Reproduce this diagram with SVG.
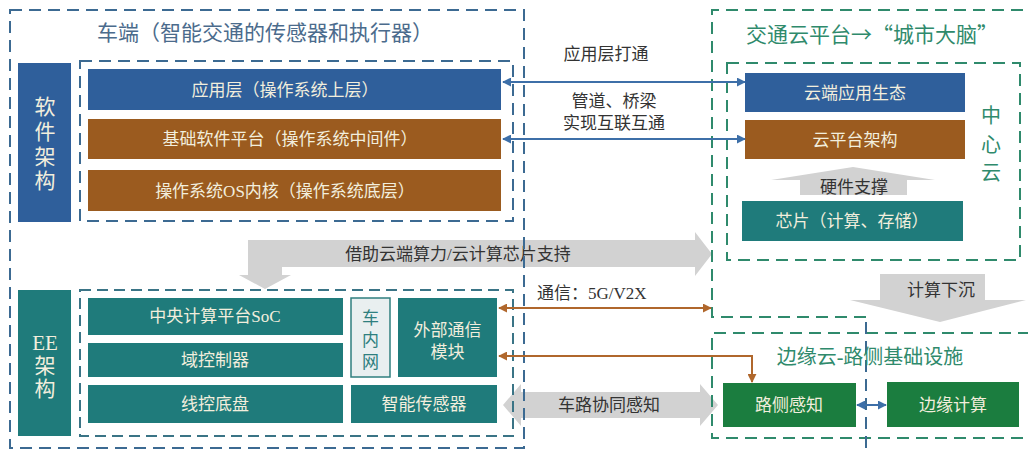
<svg xmlns="http://www.w3.org/2000/svg" width="1028" height="450" viewBox="0 0 1028 450">
<defs>
<style>
.t{font-family:"Liberation Serif","Noto Sans CJK SC",serif;}
.w{fill:#f2eedd;font-size:17px;text-anchor:middle;dominant-baseline:central;}
.d{fill:#333;font-size:17px;text-anchor:middle;dominant-baseline:central;}
.dashB{fill:none;stroke:#3c6a92;stroke-width:2;stroke-dasharray:12 7;}
.dashG{fill:none;stroke:#2f8a6c;stroke-width:2;stroke-dasharray:12 7;}
.dashT{fill:none;stroke:#3a7486;stroke-width:2;stroke-dasharray:11 6;}
.blue{fill:#2f5f9b;}
.brown{fill:#9b5b1f;}
.teal{fill:#1f7b7b;}
.green{fill:#1b7d3f;}
.gray{fill:#d2d2d2;}
.lb{stroke:#3d6fa8;stroke-width:2;fill:none;}
.lo{stroke:#b0672c;stroke-width:2;fill:none;}
</style>
<marker id="ab" viewBox="0 0 10 10" refX="9" refY="5" markerWidth="9" markerHeight="9" markerUnits="userSpaceOnUse" orient="auto-start-reverse"><path d="M0,0 L10,5 L0,10 z" fill="#3d6fa8"/></marker>
<marker id="ao" viewBox="0 0 10 10" refX="9" refY="5" markerWidth="9" markerHeight="9" markerUnits="userSpaceOnUse" orient="auto-start-reverse"><path d="M0,0 L10,5 L0,10 z" fill="#b0672c"/></marker>
</defs>
<rect width="1028" height="450" fill="#ffffff"/>

<g id="big-arrows">
<path class="gray" d="M248,240 H695 V232 L712,254 L695,276 V267 H282 V275 H291 L265,289 L239,275 H248 Z"/>
<text class="t d" x="458" y="254" font-size="18">借助云端算力/云计算芯片支持</text>
<path class="gray" d="M880,274 H985 V300 H1026 L940,322 L850,300 H880 Z"/>
<text class="t d" x="941" y="290">计算下沉</text>
<path class="gray" d="M503,405 L521,384 V392 H700 V384 L718,405 L700,426 V418 H521 V426 Z"/>
<text class="t d" x="609" y="405">车路协同感知</text>
<path class="gray" d="M800,195 V180 H771 L853,167 L935,180 H907 V195 Z"/>
<text class="t d" x="854" y="187" font-size="14">硬件支撑</text>
</g>

<g id="vehicle">
<rect class="dashB" x="10" y="10" width="514" height="438"/>
<text class="t" x="265" y="33" font-size="21" fill="#4b6b8c" text-anchor="middle" dominant-baseline="central">车端（智能交通的传感器和执行器）</text>
</g>

<g id="software">
<rect class="blue" x="18" y="63" width="53" height="159"/>
<text class="t" font-size="21" fill="#f2eedd" text-anchor="middle" dominant-baseline="central"><tspan x="45" y="107">软</tspan><tspan x="45" y="132">件</tspan><tspan x="45" y="157">架</tspan><tspan x="45" y="181">构</tspan></text>
<rect class="dashB" x="80" y="61" width="433" height="160"/>
</g>
<g id="app-layer">
<rect class="blue" x="88" y="69" width="413" height="41"/>
<text class="t w" x="285" y="90">应用层（操作系统上层）</text>
</g>
<g id="middleware">
<rect class="brown" x="88" y="119" width="413" height="40"/>
<text class="t w" x="290" y="139">基础软件平台（操作系统中间件）</text>
</g>
<g id="os-kernel">
<rect class="brown" x="88" y="170" width="413" height="41"/>
<text class="t w" x="285" y="191">操作系统OS内核（操作系统底层）</text>
</g>

<g id="ee">
<rect class="teal" x="18" y="290" width="53" height="146"/>
<text class="t" font-size="21" fill="#f2eedd" text-anchor="middle" dominant-baseline="central"><tspan x="45" y="343">EE</tspan><tspan x="45" y="366">架</tspan><tspan x="45" y="389">构</tspan></text>
<rect class="dashT" x="80" y="290" width="433" height="146"/>
</g>
<g id="soc">
<rect class="teal" x="88" y="298" width="255" height="37"/>
<text class="t w" x="215" y="316">中央计算平台SoC</text>
</g>
<g id="domain">
<rect class="teal" x="88" y="343" width="255" height="34"/>
<text class="t w" x="215" y="360">域控制器</text>
</g>
<g id="chassis">
<rect class="teal" x="88" y="385" width="255" height="38"/>
<text class="t w" x="215" y="404">线控底盘</text>
</g>
<g id="in-vehicle-net">
<rect x="351" y="298" width="39" height="79" fill="#e9eff0" stroke="#2f7f7f" stroke-width="1.5"/>
<text class="t" font-size="17" fill="#2f7f7f" text-anchor="middle" dominant-baseline="central"><tspan x="370.5" y="318">车</tspan><tspan x="370.5" y="340">内</tspan><tspan x="370.5" y="362">网</tspan></text>
</g>
<g id="comm-module">
<rect class="teal" x="398" y="298" width="99" height="79"/>
<text class="t w"><tspan x="447.5" y="330">外部通信</tspan><tspan x="447.5" y="352">模块</tspan></text>
</g>
<g id="sensor">
<rect class="teal" x="351" y="385" width="146" height="38"/>
<text class="t w" x="424" y="404">智能传感器</text>
</g>

<g id="cloud">
<path class="dashG" d="M866,317 H712 V10 H1030"/>
<text x="872" y="33" font-size="21" fill="#2f8a6c" text-anchor="middle" dominant-baseline="central" font-family="'Noto Sans CJK SC', sans-serif">交通云平台→“城市大脑”</text>
<rect class="dashG" x="727" y="63" width="293" height="197"/>
<text class="t" font-size="20" fill="#2f8a6c" text-anchor="middle" dominant-baseline="central"><tspan x="991" y="116">中</tspan><tspan x="991" y="145">心</tspan><tspan x="991" y="173">云</tspan></text>
</g>
<g id="cloud-app">
<rect class="blue" x="745" y="73" width="220" height="39"/>
<text class="t w" x="855" y="93">云端应用生态</text>
</g>
<g id="cloud-platform">
<rect class="brown" x="745" y="120" width="220" height="39"/>
<text class="t w" x="855" y="140">云平台架构</text>
</g>
<g id="chip">
<rect class="teal" x="742" y="201" width="221" height="40"/>
<text class="t w" x="852" y="221">芯片（计算、存储）</text>
</g>

<g id="edge">
<path class="dashG" d="M1030,333 H712 V438 H1030"/>
<path class="dashB" d="M866,322 V452"/>
<text class="t" x="870" y="357" font-size="20" fill="#2f8a6c" text-anchor="middle" dominant-baseline="central">边缘云-路侧基础设施</text>
</g>
<g id="roadside">
<rect class="green" x="723" y="383" width="133" height="44"/>
<text class="t w" x="789" y="405">路侧感知</text>
</g>
<g id="edge-compute">
<rect class="green" x="887" y="382" width="132" height="45"/>
<text class="t w" x="953" y="405">边缘计算</text>
</g>

<g id="connectors">
<line class="lb" x1="503" y1="82" x2="745" y2="82" marker-start="url(#ab)" marker-end="url(#ab)"/>
<line class="lb" x1="503" y1="139" x2="745" y2="139" marker-start="url(#ab)" marker-end="url(#ab)"/>
<text class="t d" x="606" y="54">应用层打通</text>
<text class="t d"><tspan x="614" y="101">管道、桥梁</tspan><tspan x="614" y="123">实现互联互通</tspan></text>
<line class="lo" x1="499" y1="308" x2="711" y2="308" marker-start="url(#ao)" marker-end="url(#ao)"/>
<text class="t" x="537" y="293" font-size="17" fill="#333" dominant-baseline="central">通信：5G/V2X</text>
<path class="lo" d="M499,356 H752 V382" marker-start="url(#ao)" marker-end="url(#ao)"/>
<line class="lb" x1="857" y1="405" x2="886" y2="405" stroke-width="1.8" marker-start="url(#ab)" marker-end="url(#ab)"/>
</g>
</svg>
